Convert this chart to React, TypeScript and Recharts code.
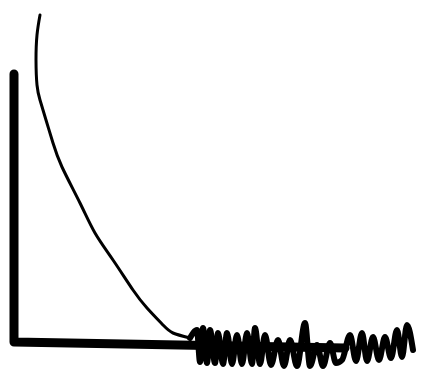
import { LineChart, Line, XAxis, YAxis } from 'recharts';

// Sketch coordinates: x to the right, y downward (y axis is reversed)
const axisX = [14, 14, 345];
const axisY = [74, 342, 348];

const curveX = [40, 37, 36, 37, 40, 46, 53, 62, 80, 95, 113, 133, 147, 163, 173, 190];
const curveY = [15, 35, 60, 85, 100, 120, 143, 167, 203, 233, 260, 290, 308, 325, 333, 338];

const noiseX = [
  190, 197, 200, 203, 207, 210, 215, 218, 223, 227, 232, 237, 242, 247, 252, 255,
  260, 265, 271, 278, 284, 290, 297, 305, 310, 317, 323, 330, 336, 342, 350, 356,
  362, 367, 373, 379, 385, 391, 397, 402, 407, 413,
];
const noiseY = [
  338, 330, 362, 328, 363, 330, 363, 333, 364, 333, 364, 335, 364, 333, 364, 328,
  364, 335, 365, 340, 366, 340, 366, 323, 366, 345, 366, 343, 363, 360, 335, 361,
  333, 361, 337, 360, 337, 358, 330, 357, 325, 350,
];

const toPoints = (xs: number[], ys: number[]) => xs.map((x, i) => ({ x, y: ys[i] }));

const axisData = toPoints(axisX, axisY);
const curveData = toPoints(curveX, curveY);
const noiseData = toPoints(noiseX, noiseY);

export default function App() {
  return (
    <div style={{ position: 'absolute', left: 0, top: 0, background: '#fff' }}>
      <LineChart width={423} height={375} margin={{ top: 0, right: 0, bottom: 0, left: 0 }}>
        <XAxis dataKey="x" type="number" domain={[0, 423]} hide allowDataOverflow />
        <YAxis dataKey="y" type="number" domain={[0, 375]} reversed hide allowDataOverflow />
        <Line
          data={axisData}
          dataKey="y"
          type="linear"
          stroke="#000"
          strokeWidth={9}
          strokeLinecap="round"
          strokeLinejoin="round"
          dot={false}
          activeDot={false}
          isAnimationActive={false}
        />
        <Line
          data={curveData}
          dataKey="y"
          type="natural"
          stroke="#000"
          strokeWidth={3}
          strokeLinecap="round"
          dot={false}
          activeDot={false}
          isAnimationActive={false}
        />
        <Line
          data={noiseData}
          dataKey="y"
          type="monotoneX"
          stroke="#000"
          strokeWidth={6}
          strokeLinecap="round"
          strokeLinejoin="round"
          dot={false}
          activeDot={false}
          isAnimationActive={false}
        />
      </LineChart>
    </div>
  );
}
